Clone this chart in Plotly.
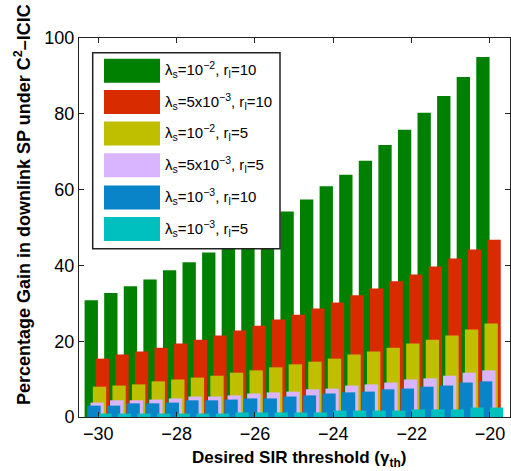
import plotly.graph_objects as go

# ---- data ----
sir_threshold = [-30 + 0.5 * k for k in range(21)]

gain_ls1e2_rl10 = [30.8, 32.7, 34.5, 36.3, 38.7, 40.8, 43.4, 46.0, 48.5, 51.0, 54.2,
                   57.4, 60.9, 63.9, 67.6, 71.8, 75.8, 80.3, 84.7, 89.7, 95.0]
gain_ls5e3_rl10 = [15.4, 16.5, 17.3, 18.3, 19.4, 20.4, 21.5, 22.8, 24.1, 25.7, 27.0,
                   28.6, 30.2, 32.1, 33.9, 35.8, 37.6, 39.7, 41.8, 44.2, 46.8]
gain_ls1e2_rl5 = [8.0, 8.3, 8.6, 9.4, 9.9, 10.4, 10.9, 11.7, 12.3, 13.1, 13.9,
                  14.6, 15.4, 16.5, 17.3, 18.3, 19.4, 20.4, 21.5, 23.1, 24.7]
gain_ls5e3_rl5 = [3.8, 4.4, 4.4, 4.6, 4.9, 5.4, 5.4, 5.7, 6.2, 6.5, 6.7,
                  7.3, 7.5, 8.3, 8.6, 9.1, 9.9, 10.2, 10.9, 11.7, 12.3]
gain_ls1e3_rl10 = [3.0, 3.0, 3.6, 3.6, 3.8, 4.4, 4.4, 4.6, 4.9, 4.9, 5.4,
                   5.7, 6.2, 6.5, 6.7, 7.3, 7.5, 8.0, 8.3, 9.1, 9.4]
gain_ls1e3_rl5 = [0.9, 0.9, 0.9, 0.9, 0.9, 0.9, 0.9, 1.2, 1.2, 1.2, 1.2,
                  1.2, 1.7, 1.7, 1.7, 1.7, 2.0, 2.0, 2.0, 2.5, 2.5]

series_names = [
    "λ<sub>s</sub>=10<sup>−2</sup>, r<sub>l</sub>=10",
    "λ<sub>s</sub>=5x10<sup>−3</sup>, r<sub>l</sub>=10",
    "λ<sub>s</sub>=10<sup>−2</sup>, r<sub>l</sub>=5",
    "λ<sub>s</sub>=5x10<sup>−3</sup>, r<sub>l</sub>=5",
    "λ<sub>s</sub>=10<sup>−3</sup>, r<sub>l</sub>=10",
    "λ<sub>s</sub>=10<sup>−3</sup>, r<sub>l</sub>=5",
]
series_values = [gain_ls1e2_rl10, gain_ls5e3_rl10, gain_ls1e2_rl5,
                 gain_ls5e3_rl5, gain_ls1e3_rl10, gain_ls1e3_rl5]
series_colors = ["#008000", "#d92b00", "#bfbf00", "#dab5ff", "#0a84c8", "#00bfbf"]
series_offsets = [-0.18, 0.105, 0.03, -0.03, -0.11, 0.17]

x_ticks = [-30, -28, -26, -24, -22, -20]
y_ticks = [0, 20, 40, 60, 80, 100]

# ---- figure ----
W, H = 511, 471
ML, MR, MT, MB = 79, 1, 38, 54
PW, PH = W - ML - MR, H - MT - MB

fig = go.Figure()
for name, vals, col, off in zip(series_names, series_values, series_colors, series_offsets):
    fig.add_trace(go.Bar(
        x=sir_threshold, y=vals, name=name, marker=dict(color=col, line=dict(width=0)),
        width=0.34, offset=off - 0.17, showlegend=False))

font_family = "Liberation Sans, Arial, Helvetica, sans-serif"

def px_x(p):
    return (p - ML) / PW

def px_y(p):
    return (H - MB - p) / PH

shapes = []
annotations = []
# legend box
shapes.append(dict(type="rect", xref="paper", yref="paper",
                   x0=px_x(92.7), x1=px_x(280), y0=px_y(248.7), y1=px_y(52.7),
                   fillcolor="white", line=dict(color="#222222", width=1.5), layer="above"))
row_y = [70.7, 102.0, 133.5, 165.2, 197.5, 229.0]
for name, col, ry in zip(series_names, series_colors, row_y):
    shapes.append(dict(type="rect", xref="paper", yref="paper",
                       x0=px_x(104), x1=px_x(160), y0=px_y(ry + 12), y1=px_y(ry - 12),
                       fillcolor=col, line=dict(width=0), layer="above"))
    annotations.append(dict(text=name, xref="paper", yref="paper", x=px_x(163), y=px_y(ry - 1),
                            xanchor="left", yanchor="middle", showarrow=False,
                            font=dict(family=font_family, size=15, color="black")))

annotations.append(dict(text="<b>Percentage Gain in downlink SP under C<sup>2</sup>–ICIC</b>",
                        xref="paper", yref="paper", x=px_x(22), y=px_y(205), textangle=-90,
                        xanchor="center", yanchor="middle", showarrow=False,
                        font=dict(family=font_family, size=18, color="black")))
annotations.append(dict(text="<b>Desired SIR threshold (γ<sub>th</sub>)</b>",
                        xref="paper", yref="paper", x=px_x(299), y=px_y(459),
                        xanchor="center", yanchor="middle", showarrow=False,
                        font=dict(family=font_family, size=17, color="black")))

fig.update_layout(
    width=W, height=H,
    margin=dict(l=ML, r=MR, t=MT, b=MB, pad=0),
    paper_bgcolor="white", plot_bgcolor="white",
    barmode="overlay",
    font=dict(family=font_family, size=18, color="black"),
    shapes=shapes, annotations=annotations,
)
fig.update_xaxes(range=[-30.493, -19.489], tickvals=x_ticks, ticks="inside", ticklen=5,
                 tickcolor="#222222", showline=True, linecolor="#222222", linewidth=1,
                 mirror="ticks", showgrid=False, zeroline=False,
                 tickfont=dict(size=18))
fig.update_yaxes(range=[0, 100], tickvals=y_ticks, ticks="inside", ticklen=5,
                 tickcolor="#222222", showline=True, linecolor="#222222", linewidth=1,
                 mirror="ticks", showgrid=False, zeroline=False,
                 tickfont=dict(size=18))

fig.write_html("out.html")
